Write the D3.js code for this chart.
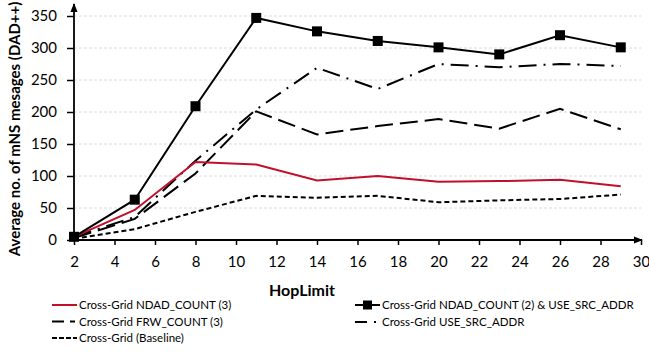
<!DOCTYPE html>
<html>
<head>
<meta charset="utf-8">
<script src="https://cdn.jsdelivr.net/npm/d3@7"></script>
<style>
  body { margin: 0; background: #fff; }
  text { font-family: Lato, "Open Sans", sans-serif; }
</style>
</head>
<body>
<div id="chart"></div>
<script>
// data
const hops = [2, 5, 8, 11, 14, 17, 20, 23, 26, 29];
const ndadCount3 = [5, 47, 122, 118, 93, 100, 91, 92, 94, 84];
const ndadSrc = [5, 63, 209, 347, 326, 311, 301, 290, 320, 301];
const frwCount3 = [3, 33, 104, 201, 165, 178, 189, 174, 205, 173];
const useSrcAddr = [5, 36, 124, 204, 269, 236, 275, 270, 275, 272];
const baseline = [2, 17, 44, 69, 66, 69, 59, 62, 64, 71];
const xTicks = d3.range(2, 31, 2);
const yTicks = [0, 50, 100, 150, 200, 250, 300, 350];

const series = [
  { name: "Cross-Grid NDAD_COUNT (3)", values: ndadCount3, color: "#c0102c", dash: null, legendDash: null, marker: false },
  { name: "Cross-Grid NDAD_COUNT (2) & USE_SRC_ADDR", values: ndadSrc, color: "#000", dash: null, legendDash: null, marker: true },
  { name: "Cross-Grid FRW_COUNT (3)", values: frwCount3, color: "#000", dash: "18,7", legendDash: "12,6,5,10", marker: false },
  { name: "Cross-Grid USE_SRC_ADDR", values: useSrcAddr, color: "#000", dash: "18,7,2,7", legendDash: "12,7,2,10", marker: false },
  { name: "Cross-Grid (Baseline)", values: baseline, color: "#000", dash: "5,3", legendDash: "5,2", marker: false }
];

const width = 649, height = 353;
const svg = d3.select("#chart").append("svg")
  .attr("width", width).attr("height", height);

const x = d3.scaleLinear().domain([2, 30]).range([74, 641]);
const y = d3.scaleLinear().domain([0, 350]).range([240, 16]);

// gridlines
svg.append("g").selectAll("line")
  .data(yTicks.slice(1))
  .join("line")
  .attr("x1", x(2)).attr("x2", x(30))
  .attr("y1", d => y(d)).attr("y2", d => y(d))
  .attr("stroke", "#dcdcdc").attr("stroke-dasharray", "3,2").attr("stroke-width", 1);

// y axis
const yAxis = svg.append("g")
  .attr("transform", `translate(${x(2)},0)`)
  .call(d3.axisLeft(y).tickValues(yTicks).tickSize(7).tickPadding(10));
yAxis.select(".domain").remove();
yAxis.selectAll("line").attr("stroke", "#000").attr("stroke-width", 1.5);
yAxis.selectAll("text").style("font-size", "15px").attr("fill", "#000");

// x axis
const xAxis = svg.append("g")
  .attr("transform", `translate(0,${y(0)})`)
  .call(d3.axisBottom(x).tickValues(xTicks).tickSize(5).tickPadding(11));
xAxis.select(".domain").remove();
xAxis.selectAll("line").attr("stroke", "#000").attr("stroke-width", 1.5);
xAxis.selectAll("text").style("font-size", "15px").attr("fill", "#000");

// axis lines with arrows
svg.append("defs").append("marker")
  .attr("id", "arrow").attr("viewBox", "0 0 10 10")
  .attr("refX", 9).attr("refY", 5)
  .attr("markerWidth", 5).attr("markerHeight", 5)
  .attr("orient", "auto")
  .append("path").attr("d", "M0,1 L10,5 L0,9 Z").attr("fill", "#000");

svg.append("line")
  .attr("x1", x(2)).attr("x2", x(2))
  .attr("y1", y(0)).attr("y2", 4)
  .attr("stroke", "#000").attr("stroke-width", 1.8)
  .attr("marker-end", "url(#arrow)");
svg.append("line")
  .attr("x1", x(2)).attr("x2", x(30) + 1)
  .attr("y1", y(0)).attr("y2", y(0))
  .attr("stroke", "#000").attr("stroke-width", 1.8)
  .attr("marker-end", "url(#arrow)");

// lines
const line = d3.line()
  .x((d, i) => x(hops[i]))
  .y(d => y(d));

const drawOrder = [4, 2, 3, 0, 1];
drawOrder.forEach(k => {
  const s = series[k];
  svg.append("path")
    .datum(s.values)
    .attr("d", line)
    .attr("fill", "none")
    .attr("stroke", s.color)
    .attr("stroke-width", 2)
    .attr("stroke-dasharray", s.dash);
  if (s.marker) {
    svg.append("g").selectAll("rect")
      .data(s.values)
      .join("rect")
      .attr("x", (d, i) => x(hops[i]) - 5)
      .attr("y", d => y(d) - 5)
      .attr("width", 10).attr("height", 10)
      .attr("fill", "#000");
  }
});

// axis titles
svg.append("text")
  .attr("x", 302).attr("y", 296)
  .attr("text-anchor", "middle")
  .style("font-size", "16px").style("font-weight", "bold")
  .text("HopLimit");

svg.append("text")
  .attr("transform", "translate(15,129) rotate(-90)")
  .attr("text-anchor", "middle")
  .attr("dy", "0.35em")
  .style("font-size", "15px").style("font-weight", "bold")
  .text("Average no. of mNS mesages  (DAD++)");

// legend
const legendPos = [
  { x: 52, y: 305 }, { x: 355, y: 305 },
  { x: 52, y: 321.5 }, { x: 355, y: 322 },
  { x: 52, y: 338 }
];
const legend = svg.append("g");
series.forEach((s, i) => {
  const p = legendPos[i];
  const g = legend.append("g").attr("transform", `translate(${p.x},${p.y})`);
  g.append("line")
    .attr("x1", 0).attr("x2", 25).attr("y1", 0).attr("y2", 0)
    .attr("stroke", s.color).attr("stroke-width", 2)
    .attr("stroke-dasharray", s.legendDash);
  if (s.marker) {
    g.append("rect").attr("x", 8).attr("y", -4.5).attr("width", 9).attr("height", 9).attr("fill", "#000");
  }
  g.append("text")
    .attr("x", 27).attr("y", 0).attr("dy", "0.35em")
    .style("font-size", "11.5px")
    .text(s.name);
});
</script>
</body>
</html>
